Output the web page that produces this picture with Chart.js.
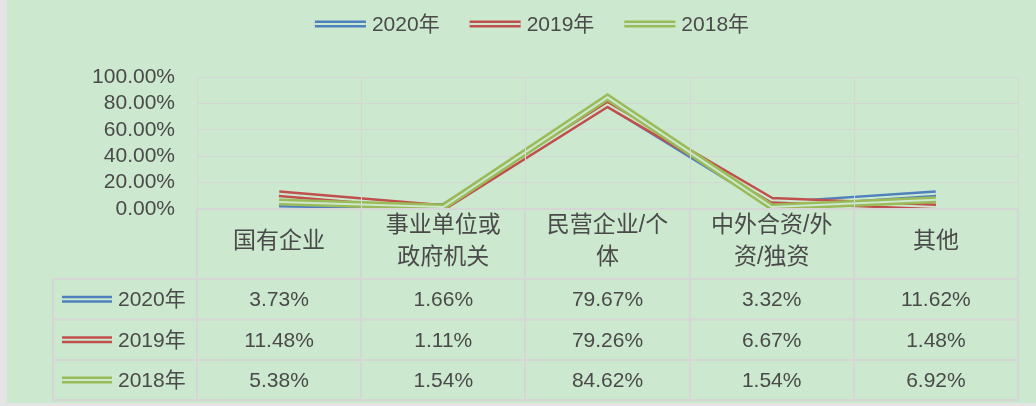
<!DOCTYPE html>
<html>
<head>
<meta charset="utf-8">
<script src="https://cdn.jsdelivr.net/npm/chart.js@4.4.1/dist/chart.umd.min.js"></script>
<style>
    html, body { margin: 0; padding: 0; background: #e4e4e4; }
    #wrap { width: 1036px; height: 406px; }
</style>
</head>
<body>
<div id="wrap"><canvas id="chart" width="1036" height="406"></canvas></div>
<script>
    // data
    const categories = [['国有企业'], ['事业单位或', '政府机关'], ['民营企业/个', '体'], ['中外合资/外', '资/独资'], ['其他']];
    const seriesNames = ['2020年', '2019年', '2018年'];
    const values2020 = [3.73, 1.66, 79.67, 3.32, 11.62];
    const values2019 = [11.48, 1.11, 79.26, 6.67, 1.48];
    const values2018 = [5.38, 1.54, 84.62, 1.54, 6.92];
    const yTicks = [0, 20, 40, 60, 80, 100];

    const allValues = [values2020, values2019, values2018];
    const colors = ['#4f81bd', '#c0504d', '#9bbb59'];
    const BG = '#cce8cf';
    const GRID = '#d6d6d6';
    const TXT = '#4a4a4a';
    const FONT = '"Liberation Sans", "Noto Sans CJK SC", sans-serif';
    const LINE_W = 7, GAP_W = 2;

    function fmt(v) {
        return v.toFixed(2) + '%';
    }

    // Excel style "double" line: thick stroke with a thin gap stroke on top
    function doubleStroke(ctx, x1, y1, x2, y2, color) {
        ctx.save();
        ctx.lineCap = 'butt';
        ctx.beginPath();
        ctx.moveTo(x1, y1);
        ctx.lineTo(x2, y2);
        ctx.lineWidth = LINE_W;
        ctx.strokeStyle = color;
        ctx.stroke();
        ctx.lineWidth = GAP_W;
        ctx.strokeStyle = BG;
        ctx.stroke();
        ctx.restore();
    }

    const background = {
        id: 'background',
        beforeDraw(chart) {
            const ctx = chart.ctx;
            ctx.save();
            ctx.fillStyle = '#e4e4e4';
            ctx.fillRect(0, 0, chart.width, chart.height);
            ctx.fillStyle = BG;
            ctx.fillRect(7, 0, chart.width - 7, 403);
            ctx.restore();
        }
    };

    const doubleLine = {
        id: 'doubleLine',
        afterDatasetDraw(chart, args) {
            const pts = args.meta.data;
            const ctx = chart.ctx;
            ctx.save();
            ctx.beginPath();
            pts.forEach((p, k) => k ? ctx.lineTo(p.x, p.y) : ctx.moveTo(p.x, p.y));
            ctx.lineWidth = GAP_W;
            ctx.lineJoin = 'miter';
            ctx.strokeStyle = BG;
            ctx.stroke();
            ctx.restore();
        }
    };

    const legendTop = {
        id: 'legendTop',
        afterDraw(chart) {
            const ctx = chart.ctx;
            ctx.save();
            ctx.font = '21px ' + FONT;
            const lineLen = 51, gapText = 6, gapItem = 30;
            const widths = seriesNames.map(n => ctx.measureText(n).width);
            let total = 0;
            widths.forEach((w, i) => total += lineLen + gapText + w + (i ? gapItem : 0));
            let x = 532 - total / 2;
            const y = 24;
            ctx.textBaseline = 'middle';
            ctx.textAlign = 'left';
            seriesNames.forEach((n, i) => {
                doubleStroke(ctx, x, y, x + lineLen, y, colors[i]);
                ctx.fillStyle = TXT;
                ctx.fillText(n, x + lineLen + gapText, y + 1);
                x += lineLen + gapText + widths[i] + gapItem;
            });
            ctx.restore();
        }
    };

    const dataTable = {
        id: 'dataTable',
        afterDraw(chart) {
            const ctx = chart.ctx;
            const xs = chart.scales.x;
            const area = chart.chartArea;
            const half = (xs.getPixelForValue(1) - xs.getPixelForValue(0)) / 2;
            const edges = [];
            for (let i = 0; i < categories.length; i++) edges.push(xs.getPixelForValue(i) - half);
            edges.push(xs.getPixelForValue(categories.length - 1) + half);

            const headTop = area.bottom, headBottom = 279;
            const rows = [279, 319.5, 360, 400];
            const keyLeft = 53;

            ctx.save();
            ctx.strokeStyle = GRID;
            // vertical lines inside the plot
            ctx.lineWidth = 1;
            edges.forEach(x => {
                ctx.beginPath();
                ctx.moveTo(Math.round(x) + 0.5, area.top);
                ctx.lineTo(Math.round(x) + 0.5, headTop);
                ctx.stroke();
            });
            // table lines
            ctx.lineWidth = 2;
            edges.forEach(x => {
                ctx.beginPath();
                ctx.moveTo(Math.round(x), headTop);
                ctx.lineTo(Math.round(x), rows[3]);
                ctx.stroke();
            });
            ctx.beginPath();
            ctx.moveTo(edges[0], headTop);
            ctx.lineTo(edges[edges.length - 1], headTop);
            ctx.stroke();
            rows.forEach(y => {
                ctx.beginPath();
                ctx.moveTo(keyLeft, y);
                ctx.lineTo(edges[edges.length - 1], y);
                ctx.stroke();
            });
            ctx.beginPath();
            ctx.moveTo(keyLeft, rows[0]);
            ctx.lineTo(keyLeft, rows[3]);
            ctx.stroke();

            // header (category names)
            ctx.fillStyle = TXT;
            ctx.textAlign = 'center';
            ctx.textBaseline = 'middle';
            ctx.font = '23px ' + FONT;
            categories.forEach((lines, i) => {
                const cx = xs.getPixelForValue(i);
                const lh = 32;
                const mid = (headTop + headBottom) / 2 - 2;
                lines.forEach((t, k) => {
                    ctx.fillText(t, cx, mid + (k - (lines.length - 1) / 2) * lh);
                });
            });

            // rows
            seriesNames.forEach((n, r) => {
                const cy = (rows[r] + rows[r + 1]) / 2;
                doubleStroke(ctx, 62, cy, 112, cy, colors[r]);
                ctx.fillStyle = TXT;
                ctx.textAlign = 'left';
                ctx.font = '21px ' + FONT;
                ctx.fillText(n, 118, cy + 1);
                ctx.textAlign = 'center';
                allValues[r].forEach((v, i) => {
                    ctx.fillText(fmt(v), xs.getPixelForValue(i), cy + 1);
                });
            });
            ctx.restore();
        }
    };

    new Chart(document.getElementById('chart'), {
        type: 'line',
        data: {
            labels: categories.map(c => c.join('')),
            datasets: seriesNames.map((name, i) => ({
                label: name,
                data: allValues[i],
                borderColor: colors[i],
                borderWidth: LINE_W,
                borderJoinStyle: 'miter',
                borderCapStyle: 'butt',
                pointRadius: 0,
                tension: 0,
                fill: false,
                order: 2 - i
            }))
        },
        options: {
            responsive: false,
            animation: false,
            devicePixelRatio: 1,
            layout: {padding: {left: 7, right: 18, top: 77, bottom: 197}},
            plugins: {
                legend: {display: false},
                tooltip: {enabled: false}
            },
            scales: {
                x: {
                    offset: true,
                    grid: {display: false, drawTicks: false},
                    border: {display: false},
                    ticks: {display: false},
                    afterFit: s => { s.height = 0; }
                },
                y: {
                    min: yTicks[0],
                    max: yTicks[yTicks.length - 1],
                    afterBuildTicks: s => { s.ticks = yTicks.map(v => ({value: v})); },
                    afterFit: s => { s.width = 190; },
                    grid: {color: GRID, lineWidth: 1, drawTicks: false},
                    border: {display: false},
                    ticks: {
                        autoSkip: false,
                        padding: 22,
                        color: TXT,
                        font: {family: FONT, size: 21},
                        callback: v => fmt(v)
                    }
                }
            }
        },
        plugins: [background, doubleLine, legendTop, dataTable]
    });
</script>
</body>
</html>
